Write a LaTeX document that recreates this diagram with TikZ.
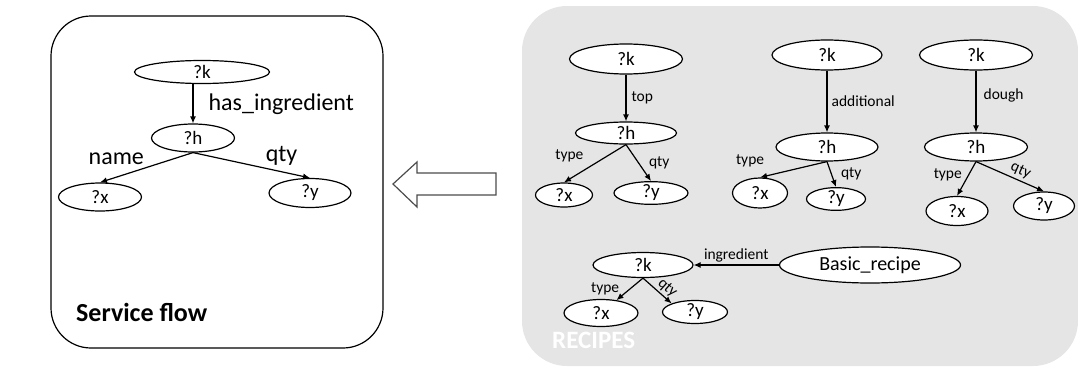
\documentclass[tikz,border=0pt]{standalone}
\usepackage{fontspec}
\setmainfont{Carlito}
\usetikzlibrary{positioning, shapes.geometric, arrows.meta}

\tikzset{
    var/.style={ellipse, draw, fill=white, line width=1.2pt, inner sep=0pt, font=\fontsize{19}{21}\selectfont},
    biglabel/.style={font=\fontsize{24}{26}\selectfont, inner sep=2pt},
    smalllabel/.style={font=\fontsize{15.5}{17}\selectfont, inner sep=2pt},
    link/.style={-{Latex[length=7pt, width=6pt]}, line width=1.2pt},
}

\begin{document}
\begin{tikzpicture}[x=1pt, y=-1pt]
    \useasboundingbox (0, 0) rectangle (1078, 372);

    \draw [line width=1.2pt, rounded corners=40pt] (51, 16) rectangle (383, 348);
    \fill [black!10, rounded corners=45pt] (522, 6) rectangle (1078, 366);
    \draw [line width=1.2pt, black!70] (393, 184) -- (417, 162) -- (417, 173) -- (496, 173) -- (496, 195) -- (417, 195) -- (417, 207) -- cycle;

    \node [var, minimum width=135pt, minimum height=23pt] (k) at (202, 72) {?k};
    \node [var, minimum width=83pt, minimum height=28pt] (h) at (193, 138) {?h};
    \node [var, minimum width=83pt, minimum height=28pt] (x) at (100, 197) {?x};
    \node [var, minimum width=82pt, minimum height=29pt] (y) at (310, 193) {?y};
    \node [font=\bfseries\fontsize{26}{28}\selectfont, anchor=west, inner sep=2pt] (flow) at (74, 312) {Service flow};

    \draw [link] (h |- k.south) -- (h) node [midway, right=13pt, biglabel] {has\_ingredient};
    \draw [link] (h.south) -- (x.north) node [midway, above left, biglabel] {name};
    \draw [link] (h.south) -- (y.north) node [pos=0.6, above right, biglabel] {qty};

    \node [var, minimum width=113pt, minimum height=30pt] (k1) at (626, 59) {?k};
    \node [var, minimum width=101pt, minimum height=22pt] (h1) at (626, 133) {?h};
    \node [var, minimum width=57pt, minimum height=24pt] (x1) at (564, 195) {?x};
    \node [var, minimum width=74pt, minimum height=22pt] (y1) at (651, 193) {?y};

    \draw [link] (k1) -- (h1) node [midway, right=3pt, smalllabel] {top};
    \draw [link] (h1.south) -- (x1.north) node [pos=0.6, above left=4pt, smalllabel] {type};
    \draw [link] (h1.south) -- (y1.north) node [midway, right=8pt, smalllabel] {qty};

    \node [var, minimum width=110pt, minimum height=30pt] (k2) at (827, 55) {?k};
    \node [var, minimum width=102pt, minimum height=28pt] (h2) at (827, 147) {?h};
    \node [var, minimum width=55pt, minimum height=30pt] (x2) at (760, 193) {?x};
    \node [var, minimum width=59pt, minimum height=22pt] (y2) at (836, 199) {?y};

    \draw [link] (k2) -- (h2) node [midway, right=2pt, smalllabel] {additional};
    \draw [link] (h2.south) -- (x2.north) node [pos=0.9, above left, yshift=6pt, smalllabel] {type};
    \draw [link] (h2.south) -- (y2.north) node [midway, right=7pt, smalllabel] {qty};

    \node [var, minimum width=113pt, minimum height=30pt] (k3) at (976, 55) {?k};
    \node [var, minimum width=103pt, minimum height=28pt] (h3) at (976, 147) {?h};
    \node [var, minimum width=62pt, minimum height=29pt] (x3) at (957, 211) {?x};
    \node [var, minimum width=61pt, minimum height=28pt] (y3) at (1044, 206) {?y};

    \draw [link] (k3) -- (h3) node [pos=0.4, right=5pt, smalllabel] {dough};
    \draw [link] (h3.south) -- (x3.north) node [pos=0.4, left=4pt, smalllabel] {type};
    \draw [link] (h3.south) -- (y3.north) node [pos=0.6, above=1pt, sloped, smalllabel] {qty};

    \node [var, minimum width=100pt, minimum height=25pt] (k4) at (643, 265) {?k};
    \node [var, minimum width=181pt, minimum height=36pt, font=\fontsize{20}{22}\selectfont] (recipe) at (870, 265) {Basic\_recipe};
    \node [var, minimum width=74pt, minimum height=27pt] (x4) at (601, 313) {?x};
    \node [var, minimum width=65pt, minimum height=23pt] (y4) at (695, 312) {?y};

    \draw [link] (recipe) -- (k4) node [midway, above, smalllabel] {ingredient};
    \draw [link] (k4.south) -- (x4) node [midway, left=8pt, smalllabel] {type};
    \draw [link] (k4.south) -- (y4.north west) node [pos=0.65, above, sloped, smalllabel] {qty};

    \node [font=\bfseries\fontsize{25}{27}\selectfont, text=white, anchor=west, inner sep=2pt] (recipes) at (550, 340) {RECIPES};
\end{tikzpicture}
\end{document}
